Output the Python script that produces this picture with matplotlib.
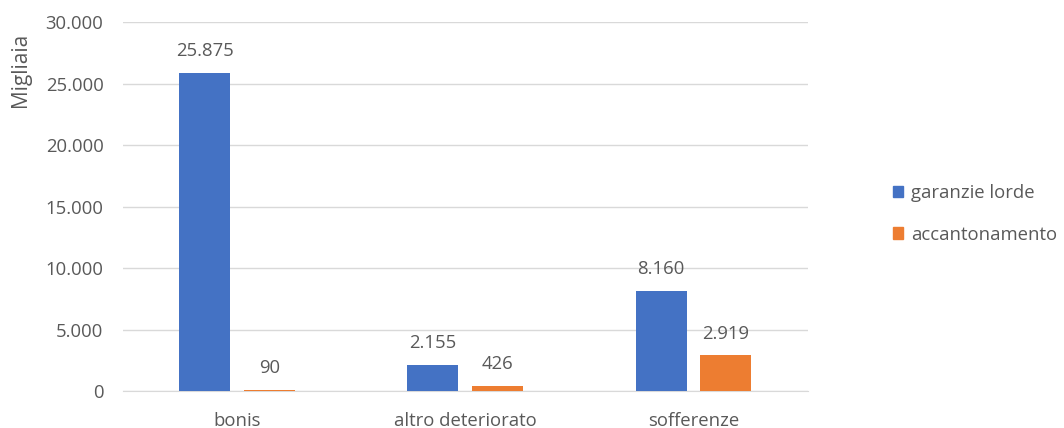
import numpy as np
import matplotlib.pyplot as plt
from matplotlib.patches import Patch

categorie = ['bonis', 'altro deteriorato', 'sofferenze']
garanzie_lorde = [25875, 2155, 8160]
accantonamento = [90, 426, 2919]
serie = ['garanzie lorde', 'accantonamento']
yticks = [0, 5000, 10000, 15000, 20000, 25000, 30000]

BLU = '#4472C4'
ARANCIO = '#ED7D31'
GRIGIO = '#595959'

plt.rcParams['font.family'] = ['Open Sans', 'DejaVu Sans']


def fmt(v):
    return '{:,}'.format(int(v)).replace(',', '.')


fig = plt.figure(figsize=(10.64, 4.28), dpi=100)
ax = fig.add_axes([0.1156, 0.0864, 0.6434, 0.8622])

x = np.arange(len(categorie))
w = 0.224
off = 0.142
b1 = ax.bar(x - off, garanzie_lorde, w, color=BLU, zorder=3)
b2 = ax.bar(x + off, accantonamento, w, color=ARANCIO, zorder=3)

for bars, vals in ((b1, garanzie_lorde), (b2, accantonamento)):
    for b, v in zip(bars, vals):
        ax.annotate(fmt(v), (b.get_x() + b.get_width() / 2, v),
                    xytext=(0, 9), textcoords='offset points',
                    ha='center', va='bottom', fontsize=13.3, color=GRIGIO)

ax.set_xlim(-0.5, 2.5)
ax.set_ylim(0, 30000)
ax.set_yticks(yticks)
ax.set_yticklabels([fmt(t) for t in yticks], fontsize=13.3, color=GRIGIO)
ax.set_xticks(x)
ax.set_xticklabels(categorie, fontsize=13.3, color=GRIGIO)
ax.tick_params(axis='y', length=0, pad=14)
ax.tick_params(axis='x', length=0, pad=15)
ax.yaxis.grid(True, color='#D9D9D9', linewidth=1, zorder=0)
for s in ['top', 'right', 'left']:
    ax.spines[s].set_visible(False)
ax.spines['bottom'].set_color('#D9D9D9')

fig.text(0.019, 0.836, 'Migliaia', rotation=90, ha='center', va='center',
         fontsize=15, color=GRIGIO)

handles = [Patch(color=BLU), Patch(color=ARANCIO)]
fig.legend(handles, serie, loc='center left', bbox_to_anchor=(0.839, 0.5),
           frameon=False, fontsize=13.3, labelcolor=GRIGIO,
           handlelength=0.55, handleheight=0.55, handletextpad=0.45,
           labelspacing=1.25, borderpad=0, borderaxespad=0)

fig.savefig('out.png', dpi=100)
